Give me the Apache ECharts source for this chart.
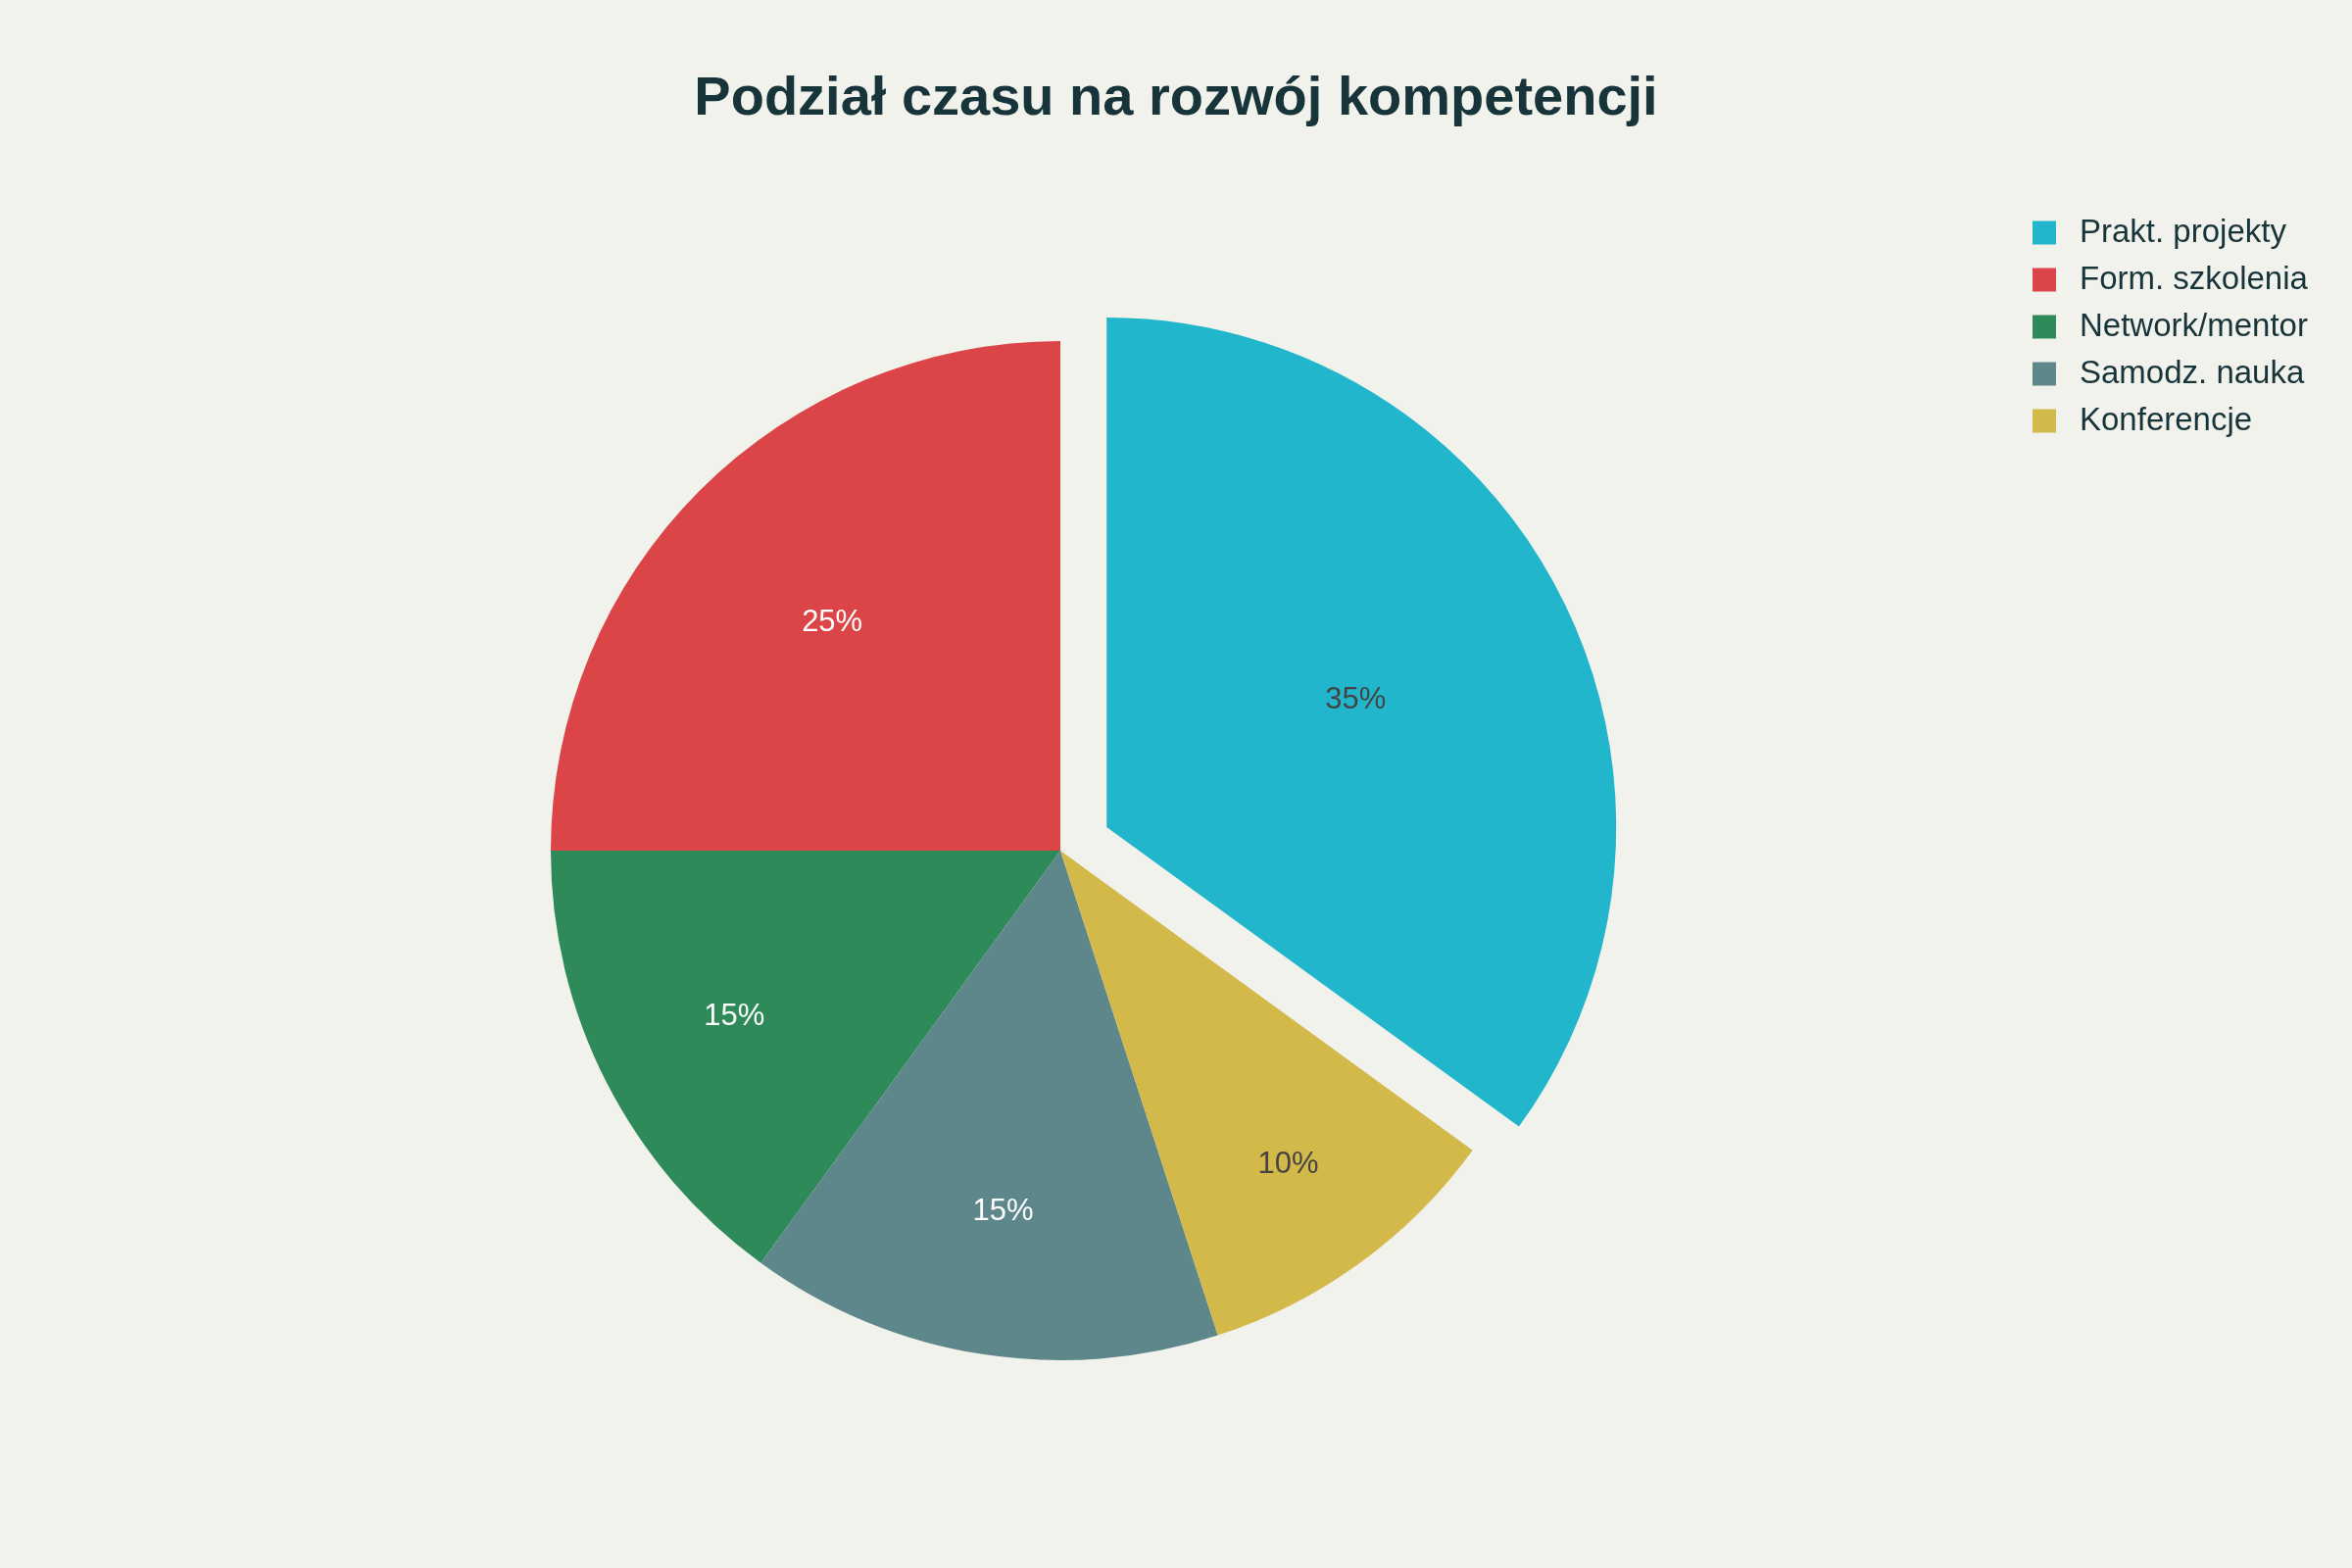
<!DOCTYPE html>
<html>
<head>
    <meta charset="utf-8" />
    <title>Podział czasu na rozwój kompetencji</title>
    <script src="https://cdn.jsdelivr.net/npm/echarts@6/dist/echarts.min.js"></script>
    <style>
        html, body { margin: 0; padding: 0; background: #F2F2EC; }
        #content { width: 2400px; height: 1600px; }
    </style>
</head>
<body>
    <div id="content"></div>
    <script type="text/javascript">
        // kategorie i udziały (%)
        var categories = ["Prakt. projekty", "Form. szkolenia", "Network/mentor", "Samodz. nauka", "Konferencje"];
        var shares = [35, 25, 15, 15, 10];
        var colors = ["#21B6CC", "#DB4547", "#2E8A59", "#5E878C", "#D3B94A"];
        var labelColors = ["#444444", "#ffffff", "#ffffff", "#ffffff", "#444444"];

        var pieCenter = [1082, 868];
        var pieRadius = 520;

        var pieData = [];
        for (var i = 0; i < categories.length; i++) {
            pieData.push({
                name: categories[i],
                value: shares[i],
                selected: i == 0,
                itemStyle: { color: colors[i] },
                label: { color: labelColors[i] }
            });
        }

        // małe wycinki: napis dalej od środka (jak w oryginale)
        function pushLabel(params) {
            var r = params.labelRect;
            var cx = r.x + r.width / 2 - pieCenter[0];
            var cy = r.y + r.height / 2 - pieCenter[1];
            var len = Math.sqrt(cx * cx + cy * cy) || 1;
            var frac = 0.84 - 0.85 * shares[params.dataIndex] / 100;
            var extra = (frac - 0.5) * pieRadius;
            return { dx: cx / len * extra, dy: cy / len * extra };
        }

        var myChart = echarts.init(document.getElementById("content"));
        myChart.setOption({
            animation: false,
            backgroundColor: "#F2F2EC",
            title: {
                text: "Podział czasu na rozwój kompetencji",
                left: "center",
                top: 69,
                textStyle: {
                    fontFamily: "Liberation Sans, sans-serif",
                    fontSize: 56,
                    fontWeight: "bold",
                    color: "#17343A"
                }
            },
            legend: {
                orient: "vertical",
                left: 2069,
                top: 216,
                itemWidth: 24,
                itemHeight: 24,
                itemGap: 15,
                icon: "rect",
                data: categories,
                textStyle: {
                    fontFamily: "Liberation Sans, sans-serif",
                    fontSize: 33,
                    lineHeight: 29,
                    color: "#17343A",
                    padding: [0, 0, 0, 19]
                }
            },
            series: [{
                type: "pie",
                center: pieCenter,
                radius: [0, pieRadius],
                startAngle: -36,
                clockwise: false,
                selectedMode: "single",
                selectedOffset: 53,
                avoidLabelOverlap: false,
                label: {
                    show: true,
                    position: "inside",
                    formatter: "{c}%",
                    fontFamily: "Liberation Sans, sans-serif",
                    fontSize: 31
                },
                labelLayout: pushLabel,
                labelLine: { show: false },
                itemStyle: { borderWidth: 0 },
                emphasis: { disabled: true },
                data: pieData
            }]
        });
    </script>
</body>
</html>
